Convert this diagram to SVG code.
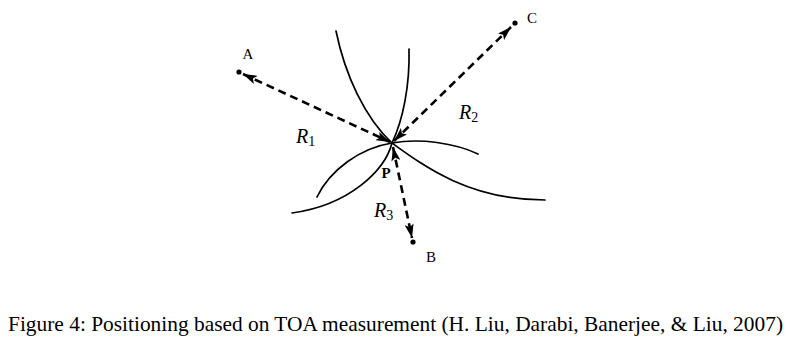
<svg xmlns="http://www.w3.org/2000/svg" width="790" height="339" viewBox="0 0 790 339">
<style>
.curve{fill:none;stroke:#000;stroke-width:1.7;stroke-linecap:round}
.ray{fill:none;stroke:#000;stroke-width:2.6;stroke-dasharray:8 5;marker-start:url(#ah);marker-end:url(#ah)}
.lbl{font-family:"Liberation Serif",serif;font-size:15px;fill:#000}
.r{font-family:"Liberation Serif",serif;font-size:20px;font-style:italic;fill:#000}
.sub{font-style:normal;font-size:14px}
.cap{font-family:"Liberation Serif",serif;font-size:21px;fill:#000}
</style>
<defs>
<marker id="ah" viewBox="0 0 14 9" refX="14" refY="4.5" markerWidth="14" markerHeight="9" markerUnits="userSpaceOnUse" orient="auto-start-reverse">
<path d="M0,0 L14,4.5 L0,9 L3,4.5 z" fill="#000" stroke="none"/>
</marker>
</defs>
<rect width="790" height="339" fill="#fff"/>
<g id="circles">
<path class="curve" d="M336,31 C345,75 365,118 392,143 C425,167 470,200 545,200"/>
<path class="curve" d="M409,49 C410,85 403,120 392,143 C385,170 350,205 292,213"/>
<path class="curve" d="M317,197 C330,170 360,148 392,143 C420,138 455,143 478,154"/>
</g>
<g id="connectors">
<path class="ray" d="M243,74 L390,142"/>
<path class="ray" d="M511,27 L394,141"/>
<path class="ray" d="M393,147 L412,238"/>
</g>
<g id="node-A">
<circle cx="239" cy="72" r="2.6" fill="#000"/>
<text class="lbl" x="248" y="59" text-anchor="middle">A</text>
</g>
<g id="node-C">
<circle cx="515" cy="23" r="2.6" fill="#000"/>
<text class="lbl" x="532" y="23" text-anchor="middle">C</text>
</g>
<g id="node-B">
<circle cx="413" cy="242" r="2.6" fill="#000"/>
<text class="lbl" x="431" y="262" text-anchor="middle">B</text>
</g>
<g id="node-P">
<text class="lbl" x="386" y="178" text-anchor="middle" font-weight="bold">P</text>
</g>
<g id="labels">
<text class="r" x="296" y="143">R<tspan class="sub" dy="3">1</tspan></text>
<text class="r" x="459" y="119">R<tspan class="sub" dy="3">2</tspan></text>
<text class="r" x="374" y="217">R<tspan class="sub" dy="3">3</tspan></text>
</g>
<text class="cap" x="8" y="331" textLength="775" lengthAdjust="spacingAndGlyphs">Figure 4: Positioning based on TOA measurement (H. Liu, Darabi, Banerjee, &amp; Liu, 2007)</text>
</svg>
